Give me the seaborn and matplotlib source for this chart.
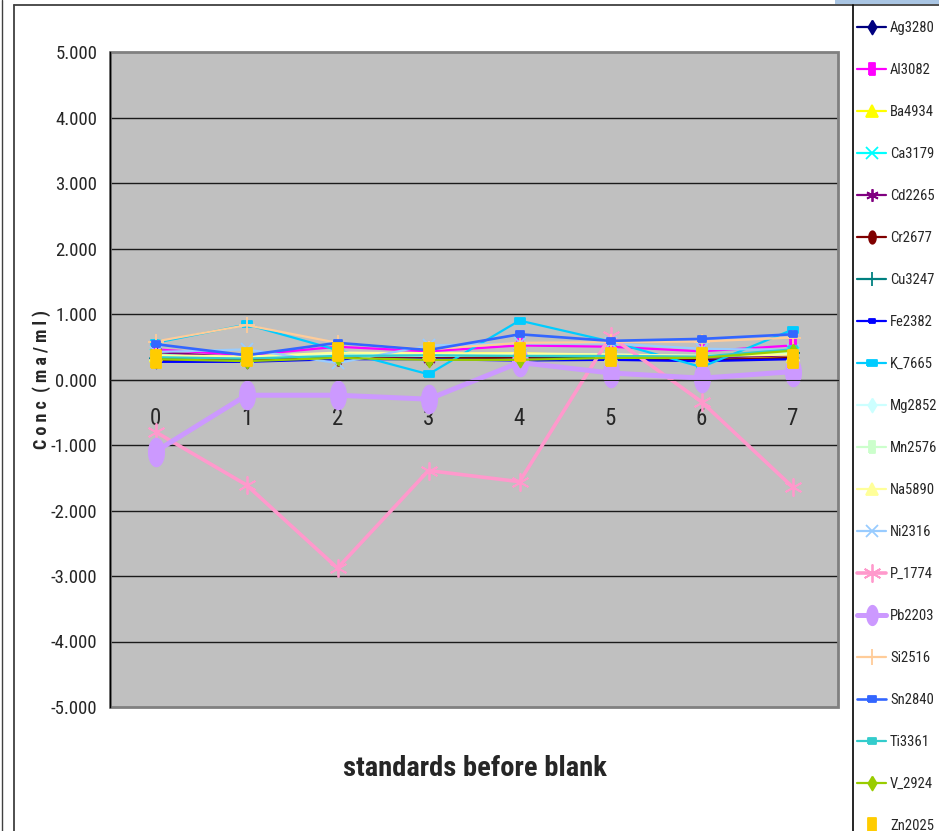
import numpy as np
import pandas as pd
import matplotlib
matplotlib.use("Agg")
import matplotlib.pyplot as plt
from matplotlib import font_manager
from matplotlib.lines import Line2D
from matplotlib.patches import Rectangle
import seaborn as sns

# ---- data -------------------------------------------------------------
standards = [0, 1, 2, 3, 4, 5, 6, 7]
y_ticks = [-5, -4, -3, -2, -1, 0, 1, 2, 3, 4, 5]

Ag3280 = [0.28, 0.28, 0.33, 0.33, 0.30, 0.30, 0.30, 0.33]
Al3082 = [0.46, 0.37, 0.50, 0.43, 0.52, 0.50, 0.43, 0.52]
Ba4934 = [0.36, 0.34, 0.40, 0.40, 0.40, 0.36, 0.34, 0.34]
Ca3179 = [0.38, 0.33, 0.38, 0.38, 0.38, 0.36, 0.36, 0.40]
Cd2265 = [0.42, 0.33, 0.36, 0.32, 0.36, 0.34, 0.33, 0.37]
Cr2677 = [0.30, 0.30, 0.32, 0.32, 0.34, 0.32, 0.29, 0.33]
Cu3247 = [0.33, 0.32, 0.36, 0.36, 0.36, 0.34, 0.34, 0.40]
Fe2382 = [0.27, 0.27, 0.31, 0.31, 0.29, 0.30, 0.28, 0.31]
K_7665 = [0.56, 0.84, 0.45, 0.08, 0.90, 0.58, 0.19, 0.76]
Mg2852 = [0.36, 0.34, 0.38, 0.36, 0.38, 0.38, 0.36, 0.40]
Mn2576 = [0.35, 0.33, 0.37, 0.37, 0.37, 0.36, 0.35, 0.42]
Na5890 = [0.37, 0.35, 0.41, 0.40, 0.40, 0.38, 0.36, 0.38]
Ni2316 = [0.42, 0.46, 0.25, 0.52, 0.55, 0.55, 0.47, 0.45]
P_1774 = [-0.80, -1.61, -2.88, -1.39, -1.56, 0.66, -0.34, -1.64]
Pb2203 = [-1.10, -0.24, -0.24, -0.30, 0.26, 0.10, 0.02, 0.12]
Si2516 = [0.58, 0.83, 0.56, 0.46, 0.56, 0.57, 0.58, 0.64]
Sn2840 = [0.54, 0.37, 0.56, 0.45, 0.69, 0.59, 0.62, 0.69]
Ti3361 = [0.34, 0.32, 0.36, 0.37, 0.36, 0.36, 0.35, 0.46]
V_2924 = [0.31, 0.28, 0.33, 0.30, 0.30, 0.33, 0.33, 0.44]
Zn2025 = [0.32, 0.35, 0.42, 0.42, 0.42, 0.35, 0.35, 0.32]

series_names = ["Ag3280", "Al3082", "Ba4934", "Ca3179", "Cd2265", "Cr2677",
                "Cu3247", "Fe2382", "K_7665", "Mg2852", "Mn2576", "Na5890",
                "Ni2316", "P_1774", "Pb2203", "Si2516", "Sn2840", "Ti3361",
                "V_2924", "Zn2025"]
series_values = [Ag3280, Al3082, Ba4934, Ca3179, Cd2265, Cr2677, Cu3247,
                 Fe2382, K_7665, Mg2852, Mn2576, Na5890, Ni2316, P_1774,
                 Pb2203, Si2516, Sn2840, Ti3361, V_2924, Zn2025]

df = pd.DataFrame(
    [(name, s, v) for name, vals in zip(series_names, series_values)
     for s, v in zip(standards, vals)],
    columns=["element", "standard", "conc"],
)

# ---- marker shapes (tall, narrow symbols) ------------------------------
tall_diamond = [(0, 1), (0.6, 0), (0, -1), (-0.6, 0), (0, 1)]
tall_rect = [(-0.55, -1), (0.55, -1), (0.55, 1), (-0.55, 1), (-0.55, -1)]
small_rect = [(-1, -0.7), (1, -0.7), (1, 0.7), (-1, 0.7), (-1, -0.7)]
_t = np.linspace(0, 2 * np.pi, 41)
tall_ellipse = list(zip(0.55 * np.cos(_t), np.sin(_t)))
asterisk = (6, 2, 0)

# name: (colour, marker, marker size, line width, filled)
styles = {
    "Ag3280": ("#000080", tall_diamond, 10, 1.6, True),
    "Al3082": ("#FF00FF", tall_rect, 9, 1.6, True),
    "Ba4934": ("#FFFF00", "^", 8, 1.6, True),
    "Ca3179": ("#00FFFF", "x", 8, 1.6, False),
    "Cd2265": ("#800080", asterisk, 9, 1.6, False),
    "Cr2677": ("#800000", tall_ellipse, 9, 1.6, True),
    "Cu3247": ("#008080", "+", 10, 1.6, False),
    "Fe2382": ("#0000FF", small_rect, 5, 1.6, True),
    "K_7665": ("#00CCFF", small_rect, 7, 1.6, True),
    "Mg2852": ("#CCFFFF", tall_diamond, 10, 1.6, True),
    "Mn2576": ("#CCFFCC", tall_rect, 9, 1.6, True),
    "Na5890": ("#FFFF99", "^", 8, 1.6, True),
    "Ni2316": ("#99CCFF", "x", 8, 1.6, False),
    "P_1774": ("#FF99CC", asterisk, 13, 2.6, False),
    "Pb2203": ("#CC99FF", tall_ellipse, 20, 3.6, True),
    "Si2516": ("#FFCC99", "+", 12, 1.6, False),
    "Sn2840": ("#3366FF", small_rect, 6, 1.9, True),
    "Ti3361": ("#33CCCC", small_rect, 6, 1.6, True),
    "V_2924": ("#99CC00", tall_diamond, 10, 1.6, True),
    "Zn2025": ("#FFCC00", tall_rect, 13, 0.0, True),
}

# ---- fonts: prefer a narrow sans face -----------------------------------
sns.set_style("white")
_fonts = font_manager.fontManager.ttflist
_narrow_stretch = ("condensed", "semi-condensed", "extra-condensed", "ultra-condensed")
family, stretch = "Liberation Sans", "normal"
for pref in ["Liberation Sans Narrow", "Arial Narrow", "Roboto Condensed",
             "Open Sans Condensed", "DejaVu Sans Condensed", "Noto Sans Condensed"]:
    if any(f.name == pref for f in _fonts):
        family, stretch = pref, "normal"
        break
else:
    for f in _fonts:
        if f.stretch in _narrow_stretch and "Sans" in f.name and "Mono" not in f.name:
            family, stretch = f.name, f.stretch
            break
plt.rcParams["font.family"] = [family, "DejaVu Sans"]
plt.rcParams["font.stretch"] = stretch
is_narrow = family != "Liberation Sans" or stretch != "normal"
fs_scale = 1.0 if is_narrow else 0.85

# ---- figure --------------------------------------------------------------
W, H = 939, 831
fig = plt.figure(figsize=(W / 100, H / 100), dpi=100, facecolor="white")
ax = fig.add_axes([110 / W, 1 - 707 / H, 728 / W, 655 / H])
ax.set_facecolor("#C0C0C0")

for name in series_names:
    color, marker, ms, lw, filled = styles[name]
    sub = df[df["element"] == name]
    kw = dict(color=color, marker=marker, markersize=ms,
              markeredgecolor=color, markerfacecolor=color if filled else "none",
              markeredgewidth=1.3, ax=ax, label=name, legend=False)
    if lw > 0:
        sns.lineplot(data=sub, x="standard", y="conc", linewidth=lw, **kw)
    else:
        sns.lineplot(data=sub, x="standard", y="conc", linestyle="none", **kw)

ax.set_xlim(-0.5, 7.5)
ax.set_ylim(-5, 5)
ax.set_xlabel("")
ax.set_ylabel("")

# horizontal gridlines and the value axis
for v in y_ticks[1:-1]:
    ax.axhline(v, color="#1a1a1a", lw=1.0, zorder=0.5)
ax.set_yticks(y_ticks)
ax.set_yticklabels([f"{v:.3f}" for v in y_ticks], fontsize=13.5 * fs_scale)
ax.tick_params(axis="y", direction="out", length=4, width=1, pad=5, color="black")

# category axis crossing at zero
ax.spines["bottom"].set_position(("data", 0))
ax.spines["bottom"].set_color("#1a1a1a")
ax.set_xticks(np.arange(-0.5, 8, 1.0))
ax.set_xticklabels([])
ax.set_xticks(standards, minor=True)
ax.set_xticklabels([str(s) for s in standards], minor=True, fontsize=16.5 * fs_scale)
ax.tick_params(axis="x", which="major", direction="out", length=6.5, width=1, color="#1a1a1a")
ax.tick_params(axis="x", which="minor", length=0, pad=20)

for side in ["top", "right"]:
    ax.spines[side].set_visible(False)
ax.spines["left"].set_color("black")
ax.spines["left"].set_linewidth(1)
ax.add_patch(Rectangle((0, 0), 1, 1, transform=ax.transAxes, fill=False,
                       edgecolor="#808080", lw=2, zorder=0.6, clip_on=False))

# axis titles
fig.text(42 / W, 1 - 380 / H, "C o n c  ( m a / m l )", rotation=90,
         ha="center", va="center", fontsize=13 * fs_scale, fontweight="bold")
fig.text(475 / W, 1 - 768 / H, "standards before blank",
         ha="center", va="center", fontsize=20.5 * fs_scale, fontweight="bold")

# legend (frame drawn separately, it runs off the bottom of the chart)
handles, labels = ax.get_legend_handles_labels()
leg_fs = 10.5 * fs_scale
leg_px = leg_fs * 100 / 72
leg = fig.legend(handles, labels, loc="upper left",
                 bbox_to_anchor=(857 / W, 1 - 21 / H), borderaxespad=0,
                 fontsize=leg_fs, labelspacing=28.0 / leg_px,
                 handlelength=29 / leg_px, handletextpad=4 / leg_px,
                 borderpad=0.0, frameon=False)
for h, lab in zip(leg.legend_handles, labels):
    if lab == "Pb2203":
        h.set_markersize(14)
    elif lab == "Zn2025":
        h.set_markersize(10)

# chart frame
fig.add_artist(Line2D([1.5 / W, 1.5 / W], [0, 1], color="#404040", lw=1))
fig.add_artist(Line2D([13.5 / W, 13.5 / W], [0, 1 - 5 / H], color="#404040", lw=1.3))
fig.add_artist(Line2D([13.5 / W, 1], [1 - 5 / H, 1 - 5 / H], color="#404040", lw=1.3))
fig.add_artist(Line2D([852.5 / W, 852.5 / W], [0, 1 - 5 / H], color="black", lw=1.2))
fig.add_artist(Rectangle((835 / W, 1 - 4 / H), 104 / W, 4 / H,
                         transform=fig.transFigure, color="#a9c5e3", lw=0))

fig.savefig("out.png", dpi=100, facecolor="white")
